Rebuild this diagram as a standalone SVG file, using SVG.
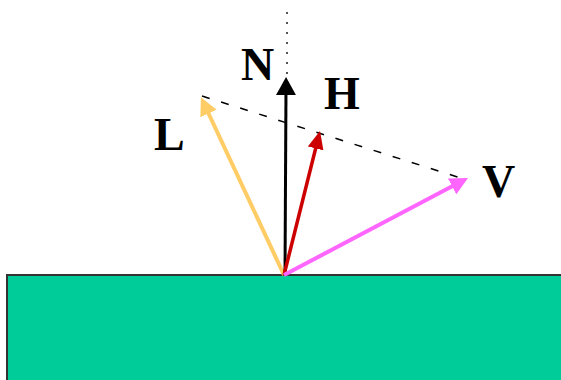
<svg xmlns="http://www.w3.org/2000/svg" width="561" height="380" viewBox="0 0 561 380">
<style>
.lbl{font-family:"Liberation Serif","Times New Roman",serif;font-weight:bold;font-size:46px;fill:#000}
.vec{fill:none;stroke-linecap:butt}
</style>
<defs>
<marker id="hN" markerUnits="userSpaceOnUse" viewBox="0 0 18 20" markerWidth="18" markerHeight="20" refX="6" refY="10" orient="auto"><path d="M0,0 L18,10 L0,20 z" fill="#000"/></marker>
<marker id="hL" markerUnits="userSpaceOnUse" viewBox="0 0 18 18" markerWidth="18" markerHeight="18" refX="6" refY="9" orient="auto"><path d="M0,0 L18,9 L0,18 z" fill="#FFCC66"/></marker>
<marker id="hH" markerUnits="userSpaceOnUse" viewBox="0 0 18 16" markerWidth="18" markerHeight="16" refX="6" refY="8" orient="auto"><path d="M0,0 L18,8 L0,16 z" fill="#CC0000"/></marker>
<marker id="hV" markerUnits="userSpaceOnUse" viewBox="0 0 18 18" markerWidth="18" markerHeight="18" refX="6" refY="9" orient="auto"><path d="M0,0 L18,9 L0,18 z" fill="#FF66FF"/></marker>
</defs>
<g id="surface"><rect x="7" y="275" width="560" height="110" fill="#00CC99" stroke="#333" stroke-width="2"/></g>
<g id="connectors">
<line x1="287" y1="12" x2="287" y2="74" stroke="#555" stroke-width="2" stroke-dasharray="2,8" stroke-linecap="butt"/>
<line x1="202" y1="96" x2="467" y2="180" stroke="#000" stroke-width="1.5" stroke-dasharray="8,12"/>
<line class="vec" x1="284" y1="275" x2="206" y2="108" stroke="#FFCC66" stroke-width="4" marker-end="url(#hL)"/>
<line class="vec" x1="285" y1="275" x2="286" y2="89" stroke="#000" stroke-width="3" marker-end="url(#hN)"/>
<line class="vec" x1="284" y1="275" x2="317.1" y2="142.6" stroke="#CC0000" stroke-width="3.5" marker-end="url(#hH)"/>
<line class="vec" x1="284" y1="275" x2="457.4" y2="183.6" stroke="#FF66FF" stroke-width="4" marker-end="url(#hV)"/>
</g>
<g id="N"><text class="lbl" x="241" y="80">N</text></g>
<g id="H"><text class="lbl" x="324" y="109">H</text></g>
<g id="L"><text class="lbl" x="154" y="150">L</text></g>
<g id="V"><text class="lbl" x="482" y="197">V</text></g>
</svg>
